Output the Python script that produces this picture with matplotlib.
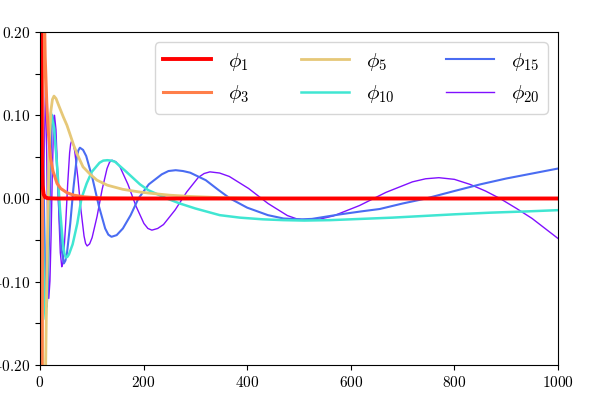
import numpy as np
import matplotlib
matplotlib.use('Agg')
import matplotlib.pyplot as plt
from matplotlib.ticker import FixedLocator, FuncFormatter

plt.rcParams['mathtext.fontset'] = 'cm'
plt.rcParams['font.size'] = 11

###################################################
# values
###################################################

x1 = [0, 1, 2, 3, 4, 5, 7, 10, 15, 30, 1000]
y1 = [0.6, 0.35, 0.18, 0.08, 0.035, 0.016, 0.005, 0.0015, 0.0003, 0, 0]

x3 = [0, 1.5, 3, 4.5, 6, 8, 10, 13, 16, 20, 25, 33, 40, 52, 65, 85, 120, 200, 1000]
y3 = [0.5, -0.1, -0.3, -0.1, 0.3, 0.24, 0.17, 0.115, 0.08, 0.05, 0.033, 0.018,
      0.012, 0.007, 0.004, 0.002, 0.0005, 0, 0]

x5 = [0, 2, 4, 6, 9, 11, 13, 15, 17, 19, 21, 24, 27, 31, 36, 45, 52, 58, 65, 72,
      83, 97, 110, 130, 160, 190, 210, 250, 290, 350, 420, 500, 1000]
y5 = [0.5, 0.15, -0.1, -0.25, -0.3, -0.2, -0.1, -0.03, 0.04, 0.08, 0.105, 0.119,
      0.123, 0.12, 0.112, 0.098, 0.088, 0.077, 0.064, 0.053, 0.038, 0.029, 0.022,
      0.016, 0.011, 0.008, 0.0065, 0.004, 0.0025, 0.001, 0.0003, 0, 0]

x10 = [0, 3, 6, 8, 11, 13, 15, 17, 19, 21, 26.8, 32.6, 38.4, 44.2, 47, 50, 53, 56,
       63, 72, 80, 90, 100, 115, 122, 130, 138, 145, 165, 193, 209, 245, 270, 300,
       347, 386, 430, 470, 510, 560, 620, 680, 740, 800, 870, 940, 1000]
y10 = [0.5, 0.1, -0.05, -0.12, -0.145, -0.121, -0.059, 0.017, 0.079, 0.103, 0.086,
       0.043, -0.011, -0.054, -0.066, -0.071, -0.070, -0.067, -0.055, -0.03, 0,
       0.018, 0.032, 0.043, 0.0455, 0.046, 0.0455, 0.044, 0.033, 0.017, 0.010, 0,
       -0.006, -0.012, -0.020, -0.023, -0.025, -0.026, -0.0265, -0.026, -0.0245,
       -0.023, -0.021, -0.019, -0.017, -0.0155, -0.014]

x15 = [0, 3, 5, 8, 10, 13, 15.2, 17.4, 19.6, 21.8, 24, 28.4, 32.8, 37.2, 41.6, 46,
       49.1, 52.2, 58.4, 64.6, 70.8, 73.9, 77, 83.1, 89.2, 101.4, 113.6, 125.8,
       131.9, 138, 148, 160, 175, 190, 210, 235, 248, 262, 276, 290, 320, 345, 367,
       400, 440, 470, 485, 505, 525, 540, 580, 620, 656, 700, 745, 800, 850, 900,
       950, 1000]
y15 = [0.5, 0.0, 0.1, -0.02, -0.09, -0.13, -0.108, -0.051, 0.021, 0.078, 0.10,
       0.083, 0.0385, -0.0165, -0.061, -0.078, -0.0746, -0.065, -0.030, 0.013,
       0.048, 0.0576, 0.061, 0.0584, 0.051, 0.024, -0.009, -0.036, -0.0434, -0.046,
       -0.044, -0.036, -0.02, 0.0, 0.017, 0.029, 0.033, 0.034, 0.033, 0.031, 0.022,
       0.01, 0, -0.011, -0.02, -0.024, -0.0245, -0.025, -0.0245, -0.023, -0.019,
       -0.0155, -0.0126, -0.006, 0, 0.009, 0.017, 0.024, 0.030, 0.036]

x20 = [0, 2, 4, 6, 8, 11, 14, 17, 19.2, 21.4, 23.6, 25.8, 28, 30.8, 33.6, 36.4,
       39.2, 42, 43.9, 45.8, 49.6, 53.4, 57.2, 59.1, 61, 64, 67, 73, 79, 85, 88, 91,
       95.8, 100.6, 110.2, 119.8, 129.4, 134.2, 139, 146.7, 154.4, 169.8, 185.2,
       200.6, 208.3, 216, 227.2, 238.4, 260.8, 283.2, 305.6, 316.8, 328, 346.7,
       365.4, 402.8, 440.2, 477.6, 496.3, 515, 540.5, 566, 617, 668, 719, 744.5,
       770, 800, 830, 860, 888, 920, 950, 975, 1000]
y20 = [0.5, -0.05, 0.1, -0.05, 0.05, 0.145, 0.0, -0.12, -0.099, -0.044, 0.024,
       0.079, 0.10, 0.083, 0.037, -0.019, -0.065, -0.082, -0.0783, -0.068, -0.030,
       0.017, 0.055, 0.0653, 0.069, 0.066, 0.057, 0.0255, -0.0135, -0.045, -0.054,
       -0.057, -0.0545, -0.047, -0.0214, 0.0104, 0.036, 0.0435, 0.046, 0.044, 0.038,
       0.017, -0.009, -0.030, -0.036, -0.038, -0.036, -0.0313, -0.0138, 0.0078,
       0.0253, 0.030, 0.032, 0.0306, 0.0265, 0.012, -0.006, -0.0205, -0.0246,
       -0.026, -0.0247, -0.021, -0.0084, 0.0074, 0.020, 0.0237, 0.025, 0.023, 0.017,
       0.009, 0, -0.012, -0.024, -0.036, -0.048]

labels = [r'$\phi_{1}$', r'$\phi_{3}$', r'$\phi_{5}$',
          r'$\phi_{10}$', r'$\phi_{15}$', r'$\phi_{20}$']
colors = ['#ff0000', '#ff7f4a', '#e6c878', '#40e6d2', '#4a6cf2', '#8010ff']
widths = [2.8, 2.2, 2.0, 1.8, 1.5, 1.0]

xs = [x1, x3, x5, x10, x15, x20]
ys = [y1, y3, y5, y10, y15, y20]

###################################################
# plot
###################################################

fig = plt.figure(figsize=(5.98, 3.99), dpi=100)
ax = fig.add_axes([40/598, 34/399, 518/598, 333/399])

handles = [None]*6
# draw phi_20 first so phi_1 ends up on top
for i in reversed(range(6)):
    line, = ax.plot(xs[i], ys[i], color=colors[i], lw=widths[i], label=labels[i])
    handles[i] = line

ax.set_xlim(0, 1000)
ax.set_ylim(-0.2, 0.2)

yt = [-0.2, -0.15, -0.1, -0.05, 0.0, 0.05, 0.1, 0.15, 0.2]
ax.yaxis.set_major_locator(FixedLocator(yt))
ax.set_yticklabels(['$-0.20$', '', '$-0.10$', '', '$0.00$', '', '$0.10$', '', '$0.20$'])
ax.xaxis.set_major_locator(FixedLocator([0, 200, 400, 600, 800, 1000]))
ax.xaxis.set_major_formatter(FuncFormatter(lambda v, p: '$%d$' % v))

ax.legend(handles=handles, labels=labels, loc='upper right', ncol=3, fontsize=15,
          handlelength=2.3, columnspacing=2.5, handletextpad=0.8)

plt.savefig('out.png', dpi=100)
